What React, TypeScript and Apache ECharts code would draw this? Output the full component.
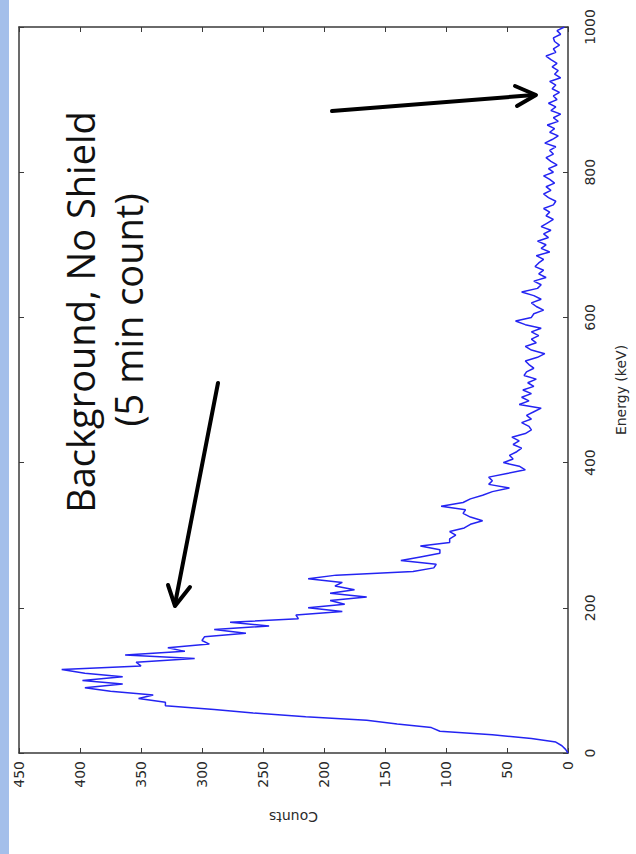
import React, { useEffect, useRef } from "react";
import * as echarts from "echarts";

// Energy channels (keV), 5 keV bins from 0 to 1000
const energyStep = 5;
// Counts per bin
const counts: number[] = [
  0, 2, 5, 10, 30, 62, 105, 112, 140, 165,
  215, 258, 290, 330, 330, 352, 340, 375, 396, 365,
  398, 365, 396, 415, 350, 354, 306, 363, 314, 328,
  294, 300, 298, 264, 290, 245, 277, 221, 223, 185,
  213, 183, 195, 165, 195, 175, 191, 185, 213, 190,
  127, 110, 108, 137, 121, 105, 105, 121, 97, 97,
  92, 97, 85, 80, 70, 80, 86, 84, 104, 86,
  80, 70, 62, 48, 65, 62, 65, 50, 35, 40,
  53, 45, 48, 42, 38, 45, 40, 46, 35, 30,
  32, 38, 30, 34, 28, 22, 40, 32, 38, 30,
  37, 28, 33, 26, 36, 34, 28, 32, 35, 25,
  19, 30, 35, 26, 30, 24, 30, 22, 35, 43,
  30, 28, 20, 26, 30, 22, 28, 38, 25, 22,
  28, 18, 24, 20, 27, 24, 20, 26, 15, 22,
  18, 25, 16, 20, 14, 22, 17, 12, 18, 15,
  20, 12, 10, 16, 20, 14, 18, 11, 15, 20,
  12, 16, 9, 14, 18, 12, 15, 10, 19, 13,
  8, 15, 11, 17, 8, 12, 6, 14, 10, 16,
  9, 12, 7, 13, 10, 15, 6, 11, 8, 13,
  9, 14, 18, 10, 12, 7, 11, 12, 6, 9,
  3,
];

const countTicks = [0, 50, 100, 150, 200, 250, 300, 350, 400, 450];
const energyTicks = [0, 200, 400, 600, 800, 1000];
const titleLine1 = "Background, No Shield";
const titleLine2 = "(5 min count)";

export default function App() {
  const ref = useRef<HTMLDivElement>(null);
  useEffect(() => {
    document.body.style.margin = "0";
    const chart = echarts.init(ref.current!, null, { renderer: "svg" });
    const data = counts.map((c, i) => [c, i * energyStep]);
    const axisLineStyle = { color: "#3a3a3a", width: 1.5 };
    const labelStyle = {
      color: "#2a2a2a",
      fontSize: 14,
      fontFamily: "DejaVu Sans",
    };
    const tick = { show: true, inside: true, length: 5, lineStyle: { color: "#3a3a3a" } };
    chart.setOption({
      animation: false,
      backgroundColor: "#ffffff",
      grid: { left: 19, right: 59, top: 27, bottom: 101 },
      xAxis: [
        {
          type: "value",
          inverse: true,
          min: countTicks[0],
          max: countTicks[countTicks.length - 1],
          interval: 50,
          position: "bottom",
          name: "Counts",
          nameLocation: "middle",
          nameGap: 57,
          nameRotate: 180,
          nameTextStyle: { ...labelStyle, fontSize: 14 },
          axisLine: { show: true, onZero: false, lineStyle: axisLineStyle },
          axisTick: tick,
          axisLabel: { ...labelStyle, rotate: 90, margin: 8 },
          splitLine: { show: false },
        },
        {
          type: "value",
          inverse: true,
          min: 0,
          max: 450,
          interval: 50,
          position: "top",
          axisLine: { show: true, onZero: false, lineStyle: axisLineStyle },
          axisTick: tick,
          axisLabel: { show: false },
          splitLine: { show: false },
        },
      ],
      yAxis: [
        {
          type: "value",
          min: energyTicks[0],
          max: energyTicks[energyTicks.length - 1],
          interval: 200,
          position: "right",
          name: "Energy (keV)",
          nameLocation: "middle",
          nameGap: 46,
          nameRotate: 90,
          nameTextStyle: { ...labelStyle, fontSize: 14 },
          axisLine: { show: true, onZero: false, lineStyle: axisLineStyle },
          axisTick: tick,
          axisLabel: {
            ...labelStyle,
            rotate: 90,
            margin: 15,
            formatter: (v: number) => String(v),
          },
          splitLine: { show: false },
        },
        {
          type: "value",
          min: 0,
          max: 1000,
          interval: 200,
          position: "left",
          axisLine: { show: true, onZero: false, lineStyle: axisLineStyle },
          axisTick: tick,
          axisLabel: { show: false },
          splitLine: { show: false },
        },
      ],
      series: [
        {
          type: "line",
          data,
          xAxisIndex: 0,
          yAxisIndex: 0,
          showSymbol: false,
          lineStyle: { color: "#2424f2", width: 1.5 },
        },
      ],
      graphic: [
        {
          type: "rect",
          left: 0,
          top: 0,
          shape: { x: 0, y: 0, width: 9, height: 854 },
          style: { fill: "#a4bfea" },
        },
        {
          type: "text",
          x: 80,
          y: 312,
          rotation: Math.PI / 2,
          style: {
            text: titleLine1,
            fontSize: 38,
            fontFamily: "Open Sans",
            fill: "#111111",
            textAlign: "center",
            textVerticalAlign: "middle",
          },
        },
        {
          type: "text",
          x: 128,
          y: 310,
          rotation: Math.PI / 2,
          style: {
            text: titleLine2,
            fontSize: 38,
            fontFamily: "Open Sans",
            fill: "#111111",
            textAlign: "center",
            textVerticalAlign: "middle",
          },
        },
        {
          type: "polyline",
          shape: { points: [[218, 383], [175, 604]] },
          style: { stroke: "#000000", lineWidth: 4, lineCap: "round" },
        },
        {
          type: "polyline",
          shape: { points: [[168, 585], [175, 606], [190, 587]] },
          style: { stroke: "#000000", lineWidth: 4, lineCap: "round", lineJoin: "round", fill: null },
        },
        {
          type: "polyline",
          shape: { points: [[332, 111], [534, 95]] },
          style: { stroke: "#000000", lineWidth: 4, lineCap: "round" },
        },
        {
          type: "polyline",
          shape: { points: [[515, 86], [536, 95], [517, 106]] },
          style: { stroke: "#000000", lineWidth: 4, lineCap: "round", lineJoin: "round", fill: null },
        },
      ],
    });
    return () => chart.dispose();
  }, []);
  return <div ref={ref} style={{ width: 636, height: 854 }} />;
}
